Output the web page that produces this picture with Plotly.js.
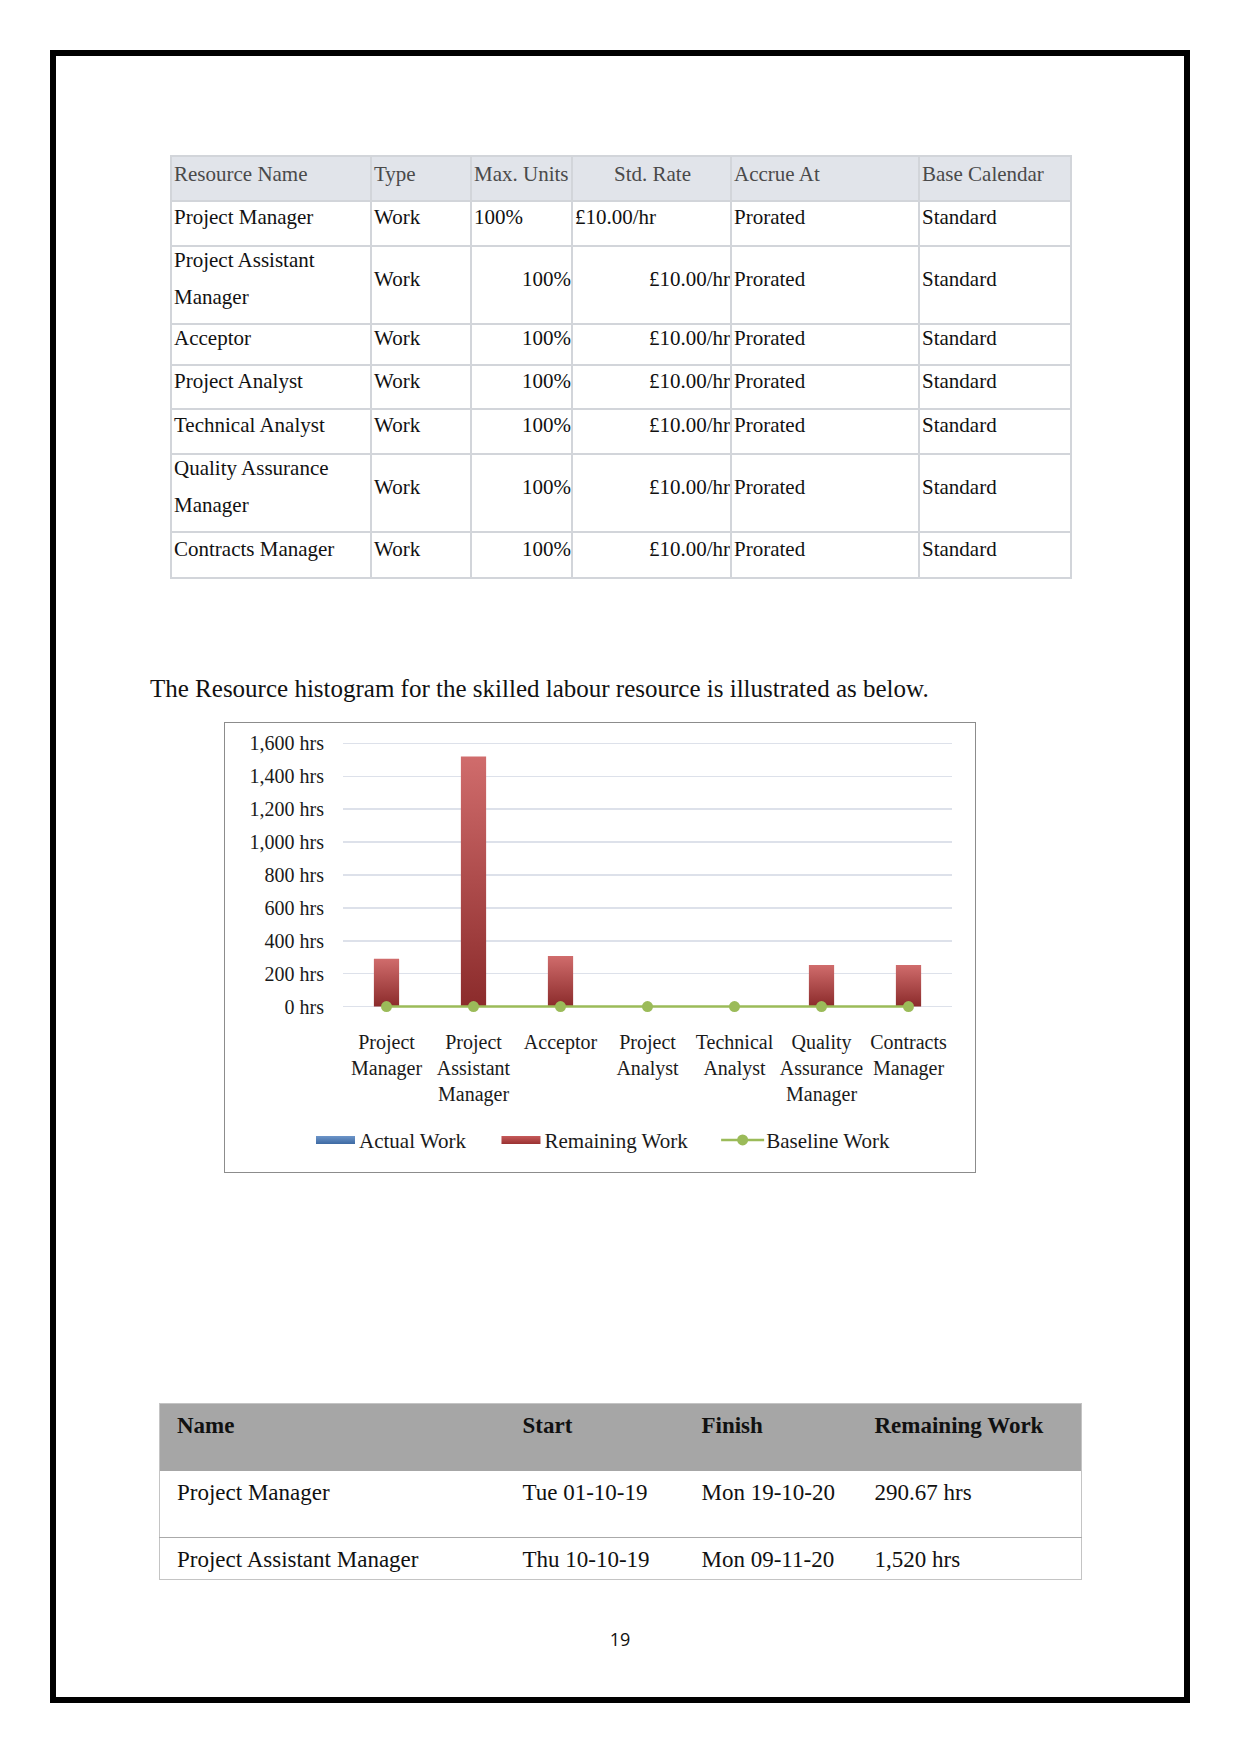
<!DOCTYPE html>
<html>
<head>
<meta charset="utf-8">
<script src="https://cdn.plot.ly/plotly-3.0.1.min.js"></script>
<style>
  html, body { margin:0; padding:0; background:#fff; }
  body { width:1241px; height:1754px; position:relative; overflow:hidden; font-family:"Liberation Serif", serif; color:#111; }
  #frame { position:absolute; left:50px; top:50px; width:1140px; height:1653px; border:6px solid #000; box-sizing:border-box; }
  #t1 { position:absolute; left:170px; top:155px; width:900px; border-collapse:collapse; table-layout:fixed; font-size:21px; }
  #t1 td { border:2px solid #d2d5da; padding:0 0 0 2px; vertical-align:middle; line-height:37px; white-space:nowrap; overflow:hidden; }
  #t1 td > span { position:relative; top:-6px; display:inline-block; }
  #t1 tr.h td { background:#e1e4ea; color:#4a4a4a; }
  #t1 tr.h td > span { top:-4px; }
  #t1 td.r { text-align:right; padding-right:0; }
  #t1 td.c { text-align:center; }
  #para { position:absolute; left:150px; top:673px; font-size:25px; line-height:32px; color:#111; white-space:nowrap; }
  #chartbox { position:absolute; left:224px; top:722px; width:752px; height:451px; box-sizing:border-box; border:1.5px solid #8c8c8c; }
  #chart { position:absolute; left:224px; top:722px; width:752px; height:451px; }
  #t3 { position:absolute; left:159px; top:1403px; width:922px; border-collapse:collapse; table-layout:fixed; font-size:23px; border:1.5px solid #c4c4c4; }
  #t3 td { padding:7px 0 0 17px; vertical-align:top; line-height:30px; white-space:nowrap; box-sizing:border-box; }
  #t3 tr.h td { background:#a6a6a6; font-weight:bold; color:#111; }
  #t3 tr.r1 td { border-bottom:1.5px solid #aaaaaa; }
  #pnum { position:absolute; left:600px; width:40px; text-align:center; top:1627px; font-family:"Open Sans", sans-serif; font-size:18px; line-height:24px; color:#111; }
</style>
</head>
<body>
<div id="frame"></div>

<table id="t1">
  <colgroup><col style="width:200px"><col style="width:100px"><col style="width:101px"><col style="width:159px"><col style="width:188px"><col style="width:152px"></colgroup>
  <tr class="h" style="height:45px"><td><span>Resource Name</span></td><td><span>Type</span></td><td><span>Max. Units</span></td><td class="c"><span>Std. Rate</span></td><td><span>Accrue At</span></td><td><span>Base Calendar</span></td></tr>
  <tr style="height:45px"><td><span>Project Manager</span></td><td><span>Work</span></td><td><span>100%</span></td><td><span>£10.00/hr</span></td><td><span>Prorated</span></td><td><span>Standard</span></td></tr>
  <tr style="height:78px"><td><span>Project Assistant<br>Manager</span></td><td><span>Work</span></td><td class="r"><span>100%</span></td><td class="r"><span>£10.00/hr</span></td><td><span>Prorated</span></td><td><span>Standard</span></td></tr>
  <tr style="height:41px"><td><span>Acceptor</span></td><td><span>Work</span></td><td class="r"><span>100%</span></td><td class="r"><span>£10.00/hr</span></td><td><span>Prorated</span></td><td><span>Standard</span></td></tr>
  <tr style="height:44px"><td><span>Project Analyst</span></td><td><span>Work</span></td><td class="r"><span>100%</span></td><td class="r"><span>£10.00/hr</span></td><td><span>Prorated</span></td><td><span>Standard</span></td></tr>
  <tr style="height:45px"><td><span>Technical Analyst</span></td><td><span>Work</span></td><td class="r"><span>100%</span></td><td class="r"><span>£10.00/hr</span></td><td><span>Prorated</span></td><td><span>Standard</span></td></tr>
  <tr style="height:78px"><td><span>Quality Assurance<br>Manager</span></td><td><span>Work</span></td><td class="r"><span>100%</span></td><td class="r"><span>£10.00/hr</span></td><td><span>Prorated</span></td><td><span>Standard</span></td></tr>
  <tr style="height:46px"><td><span>Contracts Manager</span></td><td><span>Work</span></td><td class="r"><span>100%</span></td><td class="r"><span>£10.00/hr</span></td><td><span>Prorated</span></td><td><span>Standard</span></td></tr>
</table>

<div id="para">The Resource histogram for the skilled labour resource is illustrated as below.</div>

<div id="chartbox"></div>
<div id="chart"></div>

<table id="t3">
  <colgroup><col style="width:346px"><col style="width:179px"><col style="width:173px"><col style="width:224px"></colgroup>
  <tr class="h" style="height:67px"><td>Name</td><td>Start</td><td>Finish</td><td>Remaining Work</td></tr>
  <tr class="r1" style="height:67px"><td>Project Manager</td><td>Tue 01-10-19</td><td>Mon 19-10-20</td><td>290.67 hrs</td></tr>
  <tr style="height:42px"><td>Project Assistant Manager</td><td>Thu 10-10-19</td><td>Mon 09-11-20</td><td>1,520 hrs</td></tr>
</table>

<div id="pnum">19</div>

<script>
// ---- chart data ----
const categories = ['Project Manager', 'Project Assistant Manager', 'Acceptor', 'Project Analyst', 'Technical Analyst', 'Quality Assurance Manager', 'Contracts Manager'];
const categoryLabels = ['Project<br>Manager', 'Project<br>Assistant<br>Manager', 'Acceptor', 'Project<br>Analyst', 'Technical<br>Analyst', 'Quality<br>Assurance<br>Manager', 'Contracts<br>Manager'];
const actualWork = [0, 0, 0, 0, 0, 0, 0];
const remainingWork = [290.67, 1520, 308, 0, 0, 252, 252];
const baselineWork = [0, 0, 0, 0, 0, 0, 0];
const yTickValues = [0, 200, 400, 600, 800, 1000, 1200, 1400, 1600];
const yTickLabels = ['0 hrs', '200 hrs', '400 hrs', '600 hrs', '800 hrs', '1,000 hrs', '1,200 hrs', '1,400 hrs', '1,600 hrs'];

const chartFont = { family: '"Liberation Serif", serif', size: 20, color: '#1a1a1a' };
const legendFont = { family: '"Liberation Serif", serif', size: 21, color: '#1a1a1a' };

const traces = [
  { type: 'bar', name: 'Actual Work', x: categories, y: actualWork, width: 0.29,
    marker: { color: '#4a7ab5' }, hoverinfo: 'skip' },
  { type: 'bar', name: 'Remaining Work', x: categories, y: remainingWork, width: 0.29,
    marker: { color: '#a83c3c' }, hoverinfo: 'skip' },
  { type: 'scatter', mode: 'lines+markers', name: 'Baseline Work', x: categories, y: baselineWork,
    cliponaxis: false,
    line: { color: '#9bbb59', width: 2.5 }, marker: { color: '#9bbb59', size: 11 }, hoverinfo: 'skip' }
];

const layout = {
  width: 752, height: 451,
  margin: { l: 119, r: 24, t: 19, b: 162, pad: 0 },
  paper_bgcolor: 'rgba(0,0,0,0)', plot_bgcolor: 'rgba(0,0,0,0)',
  font: chartFont,
  barmode: 'overlay',
  showlegend: true,
  legend: { orientation: 'h', x: -0.0936, xanchor: 'left', y: -0.49, yanchor: 'middle',
            font: legendFont, traceorder: 'normal', itemwidth: 63 },
  xaxis: { type: 'category', tickmode: 'array', tickvals: categories, ticktext: categoryLabels,
           tickfont: chartFont, showgrid: false, zeroline: false, showline: false, ticks: '',
           ticklabelstandoff: 19, fixedrange: true },
  yaxis: { range: [-15, 1615], tickmode: 'array', tickvals: yTickValues, ticktext: yTickLabels,
           tickfont: chartFont, showgrid: true, gridcolor: '#dde1ea', gridwidth: 1.5,
           zeroline: false, showline: false, ticks: '', ticklabelstandoff: 18, fixedrange: true }
};

Plotly.newPlot('chart', traces, layout, { staticPlot: true, displayModeBar: false }).then(function (gd) {
  const svgNS = 'http://www.w3.org/2000/svg';
  const svg = gd.querySelector('svg.main-svg');
  let defs = svg.querySelector('defs');
  if (!defs) { defs = document.createElementNS(svgNS, 'defs'); svg.insertBefore(defs, svg.firstChild); }
  function grad(id, c1, c2) {
    const g = document.createElementNS(svgNS, 'linearGradient');
    g.setAttribute('id', id); g.setAttribute('x1', '0'); g.setAttribute('y1', '0'); g.setAttribute('x2', '0'); g.setAttribute('y2', '1');
    [[0, c1], [1, c2]].forEach(function (s) {
      const st = document.createElementNS(svgNS, 'stop');
      st.setAttribute('offset', s[0]); st.setAttribute('stop-color', s[1]); g.appendChild(st);
    });
    defs.appendChild(g);
  }
  grad('redGrad', '#d06c6c', '#8b2b2b');
  grad('redLeg', '#c65a5a', '#9a3232');
  grad('blueLeg', '#6d95c9', '#3d6aa3');
  const barTraces = gd.querySelectorAll('.barlayer .trace');
  if (barTraces[1]) barTraces[1].querySelectorAll('path').forEach(function (p) { p.style.fill = 'url(#redGrad)'; });
  // legend swatches styled like the original
  const legTraces = gd.querySelectorAll('.legend .traces');
  [['blueLeg', 0], ['redLeg', 1]].forEach(function (pair) {
    const t = legTraces[pair[1]];
    if (!t) return;
    t.querySelectorAll('.legendpoints path').forEach(function (p) {
      p.setAttribute('d', 'M-6.5,4H32.5V-4H-6.5Z');
      p.style.fill = 'url(#' + pair[0] + ')';
      p.style.stroke = 'none';
    });
  });
  const lt = legTraces[2];
  if (lt) {
    lt.querySelectorAll('.legendlines path').forEach(function (p) { p.setAttribute('d', 'M28,0h43'); });
    const pts = lt.querySelector('.legendpoints');
    if (pts) pts.setAttribute('transform', ((pts.getAttribute('transform') || '') + ' translate(13,0)').trim());
  }
});
</script>
</body>
</html>
